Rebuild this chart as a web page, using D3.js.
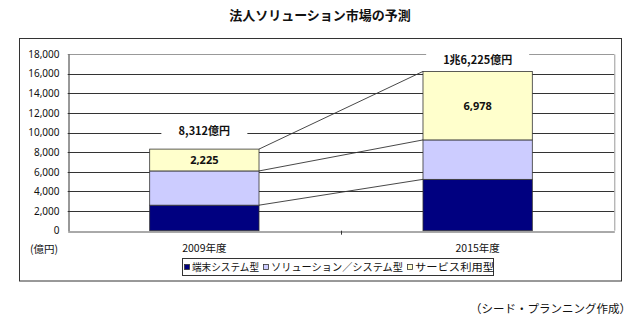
<!DOCTYPE html>
<html>
<head>
<meta charset="utf-8">
<script src="https://cdn.jsdelivr.net/npm/d3@7"></script>
<style>
  html, body { margin: 0; padding: 0; background: #fff; }
  svg text { font-family: "Noto Sans CJK JP", "Noto Sans", sans-serif; fill: #111; }
</style>
</head>
<body>
<svg id="chart" width="640" height="326"></svg>
<script>
// 法人ソリューション市場の予測（億円）
const years = ["2009年度", "2015年度"];
const seriesNames = ["端末システム型", "ソリューション／システム型", "サービス利用型"];
const terminalSystem = [2600, 5230];
const solutionSystem = [3487, 4017];
const serviceUse = [2225, 6978];
const totalLabels = ["8,312億円", "1兆6,225億円"];
const yTicks = [0, 2000, 4000, 6000, 8000, 10000, 12000, 14000, 16000, 18000];
const colors = ["#000080", "#ccccff", "#ffffcc"];

const svg = d3.select("#chart");

const plot = { left: 67.7, right: 614.3, top: 54, bottom: 230.7 };

const x = d3.scaleBand().domain(years).range([plot.left, plot.right]).paddingInner(0.6).paddingOuter(0.3);
const y = d3.scaleLinear().domain([0, 18000]).range([plot.bottom, plot.top]);

// Title
svg.append("text")
  .attr("x", 320).attr("y", 20)
  .attr("text-anchor", "middle")
  .style("font-size", "13px").style("font-weight", "bold")
  .text("法人ソリューション市場の予測");

// Outer chart frame
svg.append("rect")
  .attr("x", 19.5).attr("y", 38.5).attr("width", 602).attr("height", 242.5)
  .attr("fill", "none").attr("stroke", "#333").attr("stroke-width", 1);

// Gridlines
svg.append("g").selectAll("line").data(yTicks.filter(d => d > 0)).join("line")
  .attr("x1", plot.left).attr("x2", plot.right)
  .attr("y1", d => Math.round(y(d)) + 0.5).attr("y2", d => Math.round(y(d)) + 0.5)
  .attr("stroke", d => d === 18000 ? "#999" : "#333").attr("stroke-width", 1);

// Plot area right border
svg.append("line")
  .attr("x1", plot.right + 0.5).attr("x2", plot.right + 0.5)
  .attr("y1", Math.round(y(18000)) + 0.5).attr("y2", plot.bottom)
  .attr("stroke", "#999");

// Y axis
const yAxis = d3.axisLeft(y).tickValues(yTicks).tickSize(0).tickPadding(9)
  .tickFormat(d3.format(","));
const gy = svg.append("g").attr("transform", `translate(${Math.round(plot.left) + 0.5},0)`).call(yAxis);
gy.select(".domain").attr("stroke", "#333");
gy.selectAll("text").style("font-size", "10px").style("font-family", "'Noto Sans', sans-serif").attr("fill", "#222");

// Stacked data
const rows = years.map((yr, i) => ({
  year: yr,
  [seriesNames[0]]: terminalSystem[i],
  [seriesNames[1]]: solutionSystem[i],
  [seriesNames[2]]: serviceUse[i]
}));
const stacked = d3.stack().keys(seriesNames)(rows);

// Connector lines between the two bars at each segment top
const bw = x.bandwidth();
stacked.forEach(layer => {
  svg.append("line")
    .attr("x1", x(years[0]) + bw).attr("y1", y(layer[0][1]))
    .attr("x2", x(years[1])).attr("y2", y(layer[1][1]))
    .attr("stroke", "#333").attr("stroke-width", 0.9);
});

// Bars
svg.append("g").selectAll("g").data(stacked).join("g")
  .attr("fill", (d, i) => colors[i])
  .selectAll("rect").data(d => d).join("rect")
  .attr("x", d => x(d.data.year))
  .attr("y", d => y(d[1]))
  .attr("width", bw)
  .attr("height", d => y(d[0]) - y(d[1]))
  .attr("stroke", "#333").attr("stroke-width", 0.8);

// X axis
const xAxis = d3.axisBottom(x).tickSize(0).tickPadding(13);
const gx = svg.append("g").attr("transform", `translate(0,${Math.round(plot.bottom) + 0.5})`).call(xAxis);
gx.select(".domain").attr("stroke", "#555");
gx.selectAll("text").style("font-size", "10.5px").attr("fill", "#222");

// Category separator tick
const midX = (x(years[0]) + bw + x(years[1])) / 2;
svg.append("line")
  .attr("x1", Math.round(midX) + 0.5).attr("x2", Math.round(midX) + 0.5)
  .attr("y1", plot.bottom).attr("y2", plot.bottom + 4)
  .attr("stroke", "#333");

// Unit label
svg.append("text")
  .attr("x", 58).attr("y", 253)
  .attr("text-anchor", "end")
  .style("font-size", "10.5px").attr("fill", "#222")
  .text("(億円)");

// Segment value label for サービス利用型
const serviceLayer = stacked[2];
serviceLayer.forEach(d => {
  svg.append("text")
    .attr("x", x(d.data.year) + bw / 2)
    .attr("y", (y(d[0]) + y(d[1])) / 2 + 4)
    .attr("text-anchor", "middle")
    .style("font-size", "11px").style("font-weight", "bold")
    .style("font-family", "'Noto Sans', sans-serif")
    .text(d3.format(",")(d.data[seriesNames[2]]));
});

// Total labels with white boxes
const totalBoxW = [86, 103];
const totalOffset = [18, 11];
serviceLayer.forEach((d, i) => {
  const cx = x(d.data.year) + bw / 2;
  const cy = y(d[1]) - totalOffset[i];
  svg.append("rect")
    .attr("x", cx - totalBoxW[i] / 2).attr("y", cy - 8)
    .attr("width", totalBoxW[i]).attr("height", 16)
    .attr("fill", "#fff");
  svg.append("text")
    .attr("x", cx).attr("y", cy + 4)
    .attr("text-anchor", "middle")
    .style("font-size", "11px").style("font-weight", "bold")
    .text(totalLabels[i]);
});

// Legend: entries packed inside a fixed box, text widths fitted to it
const legendX = 182.5, legendW = 311;
const legendTextW = [67, 132, 79];
const legend = svg.append("g");
legend.append("rect")
  .attr("x", legendX).attr("y", 258.5).attr("width", legendW).attr("height", 17)
  .attr("fill", "#fff").attr("stroke", "#333");
let lx = 184;
seriesNames.forEach((name, i) => {
  legend.append("rect")
    .attr("x", lx + 0.5).attr("y", 264.5).attr("width", 5).attr("height", 5)
    .attr("fill", colors[i]).attr("stroke", "#333").attr("stroke-width", 0.8);
  legend.append("text")
    .attr("x", lx + 8).attr("y", 271)
    .attr("textLength", legendTextW[i]).attr("lengthAdjust", "spacingAndGlyphs")
    .style("font-size", "10.5px").attr("fill", "#222")
    .text(name);
  lx += 8 + legendTextW[i] + 4;
});

// Source note
svg.append("text")
  .attr("x", 631).attr("y", 313)
  .attr("text-anchor", "end")
  .style("font-size", "11.5px").attr("fill", "#222")
  .text("（シード・プランニング作成）");
</script>
</body>
</html>
